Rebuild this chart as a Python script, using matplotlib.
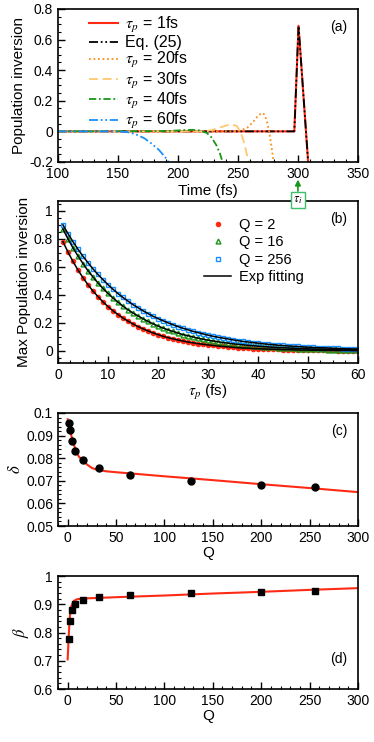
import numpy as np
import matplotlib
matplotlib.use("Agg")
import matplotlib.pyplot as plt
from matplotlib.ticker import MultipleLocator

plt.rcParams['font.family'] = ['Liberation Sans', 'DejaVu Sans']
plt.rcParams['mathtext.fontset'] = 'stix'
plt.rcParams['font.size'] = 10

# ---- panel (a): population inversion vs time ----
t_1fs = [100, 297, 300.5, 308.5, 310]
p_1fs = [0, 0, 0.69, -0.2, -0.35]
t_eq25 = [100, 297, 300.5, 308.5, 310]
p_eq25 = [0, 0, 0.69, -0.2, -0.35]
t_20fs = [100, 245, 252, 258, 263, 267, 270, 272, 274, 276, 278, 280]
p_20fs = [0, 0, 0.005, 0.025, 0.065, 0.105, 0.12, 0.11, 0.07, 0.0, -0.1, -0.22]
t_30fs = [100, 220, 228, 235, 241, 245, 249, 252, 255, 258, 259.5]
p_30fs = [0, 0, 0.008, 0.025, 0.04, 0.045, 0.035, 0.0, -0.07, -0.17, -0.22]
t_40fs = [100, 190, 205, 212, 218, 224, 228, 232, 235, 238]
p_40fs = [0, 0.002, 0.008, 0.01, 0.006, -0.01, -0.04, -0.09, -0.145, -0.22]
t_60fs = [100, 150, 158, 165, 172, 178, 184, 189, 193]
p_60fs = [0, 0, -0.005, -0.02, -0.045, -0.08, -0.12, -0.165, -0.21]

# ---- panel (b): max population inversion vs pulse width ----
tau_p = list(range(1, 61))
max_q2 = [0.780, 0.706, 0.639, 0.578, 0.523, 0.473, 0.428, 0.388, 0.350, 0.317,
          0.287, 0.260, 0.235, 0.213, 0.193, 0.174, 0.158, 0.143, 0.129, 0.117,
          0.105, 0.095, 0.087, 0.078, 0.071, 0.064, 0.058, 0.052, 0.048, 0.043,
          0.039, 0.035, 0.032, 0.029, 0.026, 0.023, 0.021, 0.020, 0.017, 0.016,
          0.014, 0.013, 0.012, 0.011, 0.009, 0.009, 0.008, 0.007, 0.006, 0.006,
          0.005, 0.005, 0.004, 0.004, 0.004, 0.003, 0.003, 0.003, 0.002, 0.002]
max_q16 = [0.870, 0.800, 0.736, 0.678, 0.624, 0.573, 0.528, 0.485, 0.446, 0.411,
           0.378, 0.348, 0.320, 0.294, 0.271, 0.250, 0.230, 0.211, 0.194, 0.178,
           0.164, 0.151, 0.139, 0.128, 0.117, 0.109, 0.100, 0.091, 0.084, 0.077,
           0.071, 0.066, 0.060, 0.056, 0.051, 0.047, 0.044, 0.040, 0.037, 0.034,
           0.031, 0.029, 0.026, 0.024, 0.023, 0.021, 0.019, 0.017, 0.016, 0.015,
           0.013, 0.012, 0.011, 0.010, 0.010, 0.009, 0.008, 0.008, 0.007, 0.006]
max_q256 = [0.900, 0.838, 0.780, 0.726, 0.676, 0.630, 0.586, 0.546, 0.509, 0.473,
            0.441, 0.410, 0.382, 0.356, 0.331, 0.309, 0.287, 0.267, 0.248, 0.231,
            0.216, 0.201, 0.187, 0.174, 0.162, 0.151, 0.140, 0.131, 0.122, 0.113,
            0.105, 0.098, 0.092, 0.086, 0.079, 0.074, 0.068, 0.064, 0.059, 0.056,
            0.051, 0.048, 0.045, 0.041, 0.039, 0.036, 0.033, 0.032, 0.029, 0.027,
            0.025, 0.023, 0.022, 0.021, 0.019, 0.018, 0.016, 0.015, 0.014, 0.014]

# ---- panels (c), (d): fit parameters vs Q ----
Q = [1, 2, 4, 8, 16, 32, 64, 128, 200, 256]
delta = [0.0957, 0.0923, 0.0877, 0.0833, 0.0793, 0.0756, 0.0725, 0.0697, 0.0680, 0.0672]
beta = [0.777, 0.842, 0.878, 0.900, 0.916, 0.925, 0.934, 0.941, 0.945, 0.946]
Q_fit_d = [0, 1, 2, 3, 4, 6, 8, 10, 12, 16, 20, 25, 30, 40, 50, 100, 150, 200, 250, 300]
delta_fit = [0.0972, 0.0955, 0.0935, 0.0915, 0.0897, 0.0866, 0.0840, 0.0818, 0.0805,
             0.0790, 0.0772, 0.0757, 0.0749, 0.0742, 0.0738, 0.0720, 0.0703, 0.0685,
             0.0668, 0.0650]
Q_fit_b = [0, 0.5, 1, 2, 3, 4, 6, 8, 10, 15, 20, 50, 100, 150, 200, 250, 300]
beta_fit = [0.705, 0.74, 0.78, 0.845, 0.878, 0.895, 0.910, 0.915, 0.918, 0.920,
            0.921, 0.925, 0.931, 0.938, 0.944, 0.951, 0.957]

RED = '#ff2a14'
ORANGE = '#ff8c1a'
LORANGE = '#ffc870'
GREEN = '#1a961a'
BLUE = '#1a90ff'

fig = plt.figure(figsize=(3.74, 7.42), dpi=100)
L, W = 0.155, 0.802
ax_a = fig.add_axes([L, 0.7817, W, 0.2063])
ax_b = fig.add_axes([L, 0.5108, W, 0.2182])
ax_c = fig.add_axes([L, 0.2911, W, 0.1523])
ax_d = fig.add_axes([L, 0.0714, W, 0.1523])
ax_a.set_zorder(5)


def style(ax):
    ax.tick_params(which='both', direction='in', top=False, right=False, labelsize=10)
    ax.tick_params(which='major', length=5, width=1)
    ax.tick_params(which='minor', length=2.5, width=0.8)
    for s in ax.spines.values():
        s.set_linewidth(1.2)


# (a)
ax_a.plot(t_1fs, p_1fs, color=RED, lw=1.5, label=r'$\tau_p$ = 1fs')
ax_a.plot(t_eq25, p_eq25, color='black', lw=1.3, dashes=[5, 1.5, 1, 1.5, 1, 1.5],
          label='Eq. (25)')
ax_a.plot(t_20fs, p_20fs, color=ORANGE, lw=1.3, ls=(0, (1, 1.5)), label=r'$\tau_p$ = 20fs')
ax_a.plot(t_30fs, p_30fs, color=LORANGE, lw=1.3, ls=(0, (5, 2.5)), label=r'$\tau_p$ = 30fs')
ax_a.plot(t_40fs, p_40fs, color=GREEN, lw=1.3, dashes=[4, 1.5, 1, 1.5], label=r'$\tau_p$ = 40fs')
ax_a.plot(t_60fs, p_60fs, color=BLUE, lw=1.3, dashes=[5, 1.5, 1, 1.5, 1, 1.5],
          label=r'$\tau_p$ = 60fs')
ax_a.set_xlim(100, 350)
ax_a.set_ylim(-0.2, 0.8)
ax_a.xaxis.set_major_locator(MultipleLocator(50))
ax_a.xaxis.set_minor_locator(MultipleLocator(10))
ax_a.yaxis.set_minor_locator(MultipleLocator(0.05))
ax_a.set_yticks([-0.2, 0, 0.2, 0.4, 0.6, 0.8])
ax_a.set_yticklabels(['-0.2', '0', '0.2', '0.4', '0.6', '0.8'])
ax_a.set_xlabel('Time (fs)', fontsize=11, labelpad=2)
ax_a.set_ylabel('Population inversion', fontsize=11, labelpad=2)
ax_a.text(0.965, 0.93, '(a)', transform=ax_a.transAxes, ha='right', va='top', fontsize=10)
ax_a.legend(loc='upper left', bbox_to_anchor=(0.055, 1.055), frameon=False, fontsize=11.5,
            handlelength=1.85, labelspacing=0.02, handletextpad=0.4)
style(ax_a)
# tau_i marker below the axis
ax_a.annotate('', xy=(300, -0.315), xytext=(300, -0.39), xycoords='data',
              arrowprops=dict(arrowstyle='-|>', color=GREEN, lw=1.2, mutation_scale=8,
                              shrinkA=0, shrinkB=0),
              annotation_clip=False)
ax_a.text(300, -0.45, r'$\tau_i$', ha='center', va='center', fontsize=9,
          bbox=dict(boxstyle='square,pad=0.15', fc='white', ec='#3cc06a', lw=1),
          clip_on=False)

# (b)
ax_b.plot(tau_p, max_q2, ls='none', marker='o', ms=3, color=RED, mec=RED, label='Q = 2')
ax_b.plot(tau_p, max_q16, ls='none', marker='^', ms=3.5, mfc='none', mec=GREEN, mew=1,
          label='Q = 16')
ax_b.plot(tau_p, max_q256, ls='none', marker='s', ms=3.5, mfc='none', mec=BLUE, mew=1,
          label='Q = 256')
ax_b.plot(tau_p, max_q2, color='black', lw=1.1, label='Exp fitting')
ax_b.plot(tau_p, max_q16, color='black', lw=1.1)
ax_b.plot(tau_p, max_q256, color='black', lw=1.1)
ax_b.set_xlim(0, 60)
ax_b.set_ylim(-0.086, 1.07)
ax_b.xaxis.set_major_locator(MultipleLocator(10))
ax_b.xaxis.set_minor_locator(MultipleLocator(2.5))
ax_b.yaxis.set_minor_locator(MultipleLocator(0.05))
ax_b.set_yticks([0, 0.2, 0.4, 0.6, 0.8, 1.0])
ax_b.set_yticklabels(['0', '0.2', '0.4', '0.6', '0.8', '1'])
ax_b.set_xlabel(r'$\tau_p$ (fs)', fontsize=11, labelpad=1)
ax_b.set_ylabel('Max Population inversion', fontsize=11, labelpad=2)
ax_b.text(0.965, 0.93, '(b)', transform=ax_b.transAxes, ha='right', va='top', fontsize=10)
ax_b.legend(loc='upper right', bbox_to_anchor=(0.865, 0.975), frameon=False, fontsize=10.5,
            handlelength=1.8, labelspacing=0.22, handletextpad=0.6)
style(ax_b)

# (c)
ax_c.plot(Q_fit_d, delta_fit, color=RED, lw=1.5)
ax_c.plot(Q, delta, ls='none', marker='o', ms=5, color='black')
ax_c.set_xlim(-10, 300)
ax_c.set_ylim(0.05, 0.1)
ax_c.xaxis.set_major_locator(MultipleLocator(50))
ax_c.xaxis.set_minor_locator(MultipleLocator(10))
ax_c.yaxis.set_minor_locator(MultipleLocator(0.002))
ax_c.set_yticks([0.05, 0.06, 0.07, 0.08, 0.09, 0.1])
ax_c.set_yticklabels(['0.05', '0.06', '0.07', '0.08', '0.09', '0.1'])
ax_c.set_xlabel('Q', fontsize=11, labelpad=1)
ax_c.set_ylabel(r'$\delta$', fontsize=12, labelpad=2)
ax_c.text(0.965, 0.9, '(c)', transform=ax_c.transAxes, ha='right', va='top', fontsize=10)
style(ax_c)

# (d)
ax_d.plot(Q_fit_b, beta_fit, color=RED, lw=1.5)
ax_d.plot(Q, beta, ls='none', marker='s', ms=5, color='black')
ax_d.set_xlim(-10, 300)
ax_d.set_ylim(0.6, 1.0)
ax_d.xaxis.set_major_locator(MultipleLocator(50))
ax_d.xaxis.set_minor_locator(MultipleLocator(10))
ax_d.yaxis.set_minor_locator(MultipleLocator(0.02))
ax_d.set_yticks([0.6, 0.7, 0.8, 0.9, 1.0])
ax_d.set_yticklabels(['0.6', '0.7', '0.8', '0.9', '1'])
ax_d.set_xlabel('Q', fontsize=11, labelpad=1)
ax_d.set_ylabel(r'$\beta$', fontsize=12, labelpad=2)
ax_d.text(0.965, 0.2, '(d)', transform=ax_d.transAxes, ha='right', va='bottom', fontsize=10)
style(ax_d)

fig.savefig('out.png', dpi=100)
